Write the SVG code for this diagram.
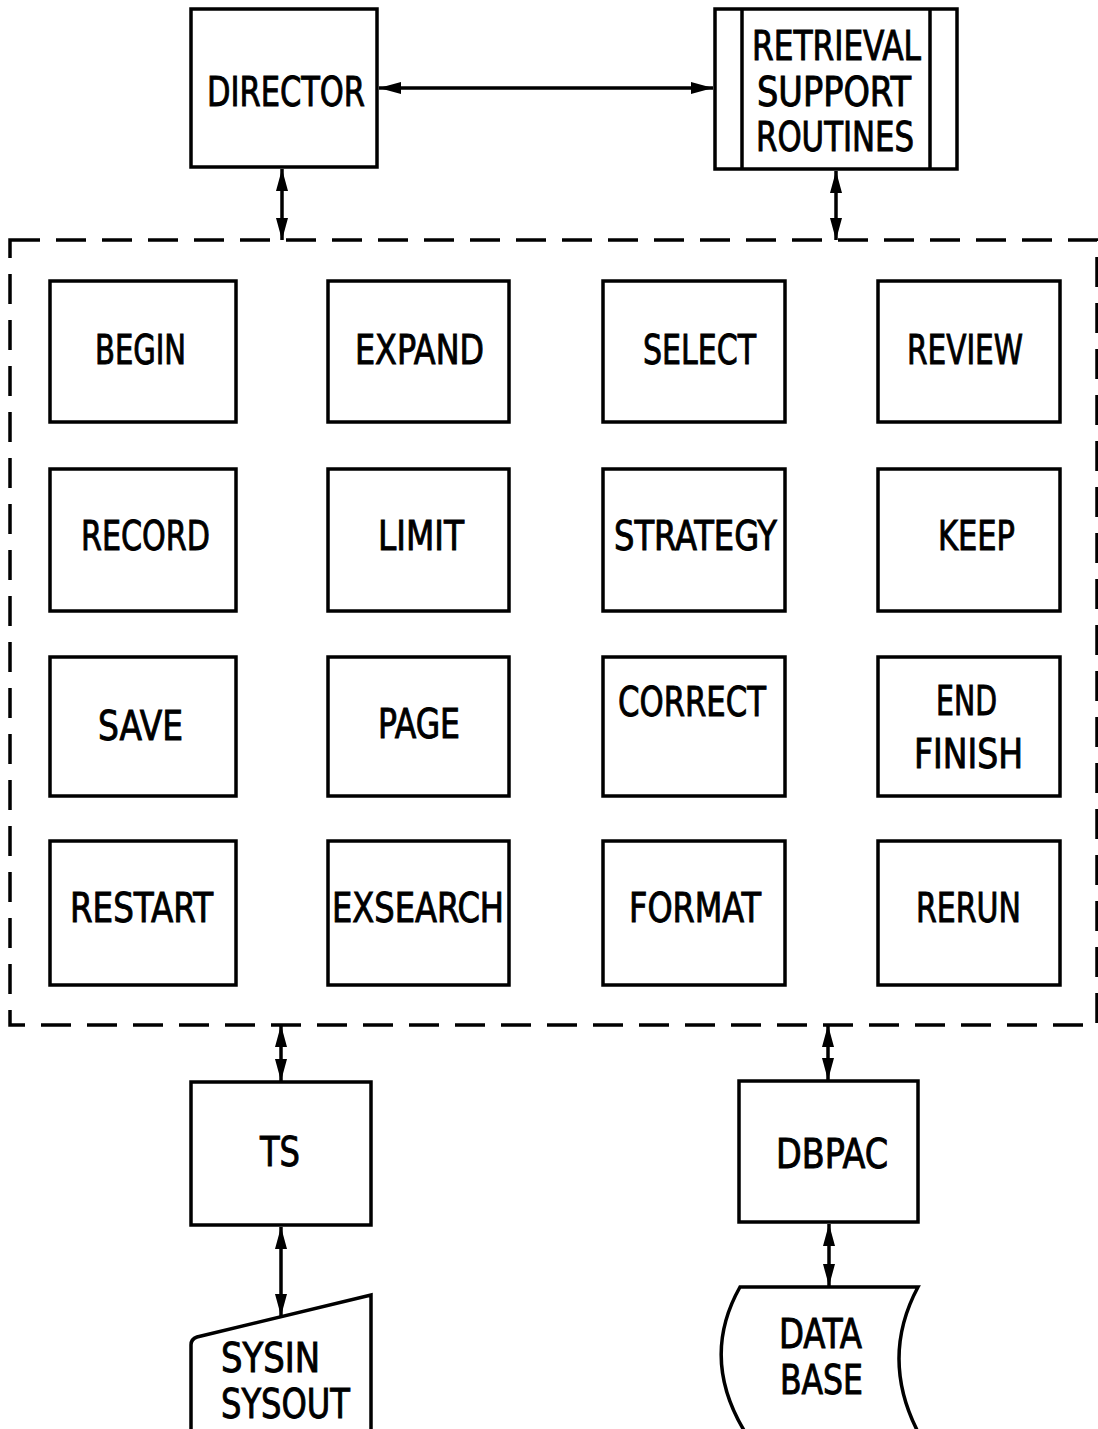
<svg xmlns="http://www.w3.org/2000/svg" width="1098" height="1429" viewBox="0 0 1098 1429">
<style>
.b{fill:#fff;stroke:#000;stroke-width:3.5}
.t{font-family:"DejaVu Sans Condensed","Liberation Sans Narrow","Liberation Sans",sans-serif;font-size:40px;fill:#000;stroke:#000;stroke-width:0.9}
.c{fill:none;stroke:#000;stroke-width:3.5}
.d{fill:none;stroke:#000;stroke-width:3.5;stroke-dasharray:30 16}
</style>
<defs>
<marker id="ah" viewBox="0 0 22 12" refX="22" refY="6" markerWidth="22" markerHeight="12" markerUnits="userSpaceOnUse" orient="auto-start-reverse">
<path d="M0,0 L22,6 L0,12 Z" fill="#000"/>
</marker>
</defs>
<rect width="1098" height="1429" fill="#fff"/>
<g id="boundary"><rect class="d" x="10" y="240" width="1087" height="785"/></g>
<g id="connectors">
<line class="c" x1="379" y1="88" x2="713" y2="88" marker-start="url(#ah)" marker-end="url(#ah)"/>
<line class="c" x1="282" y1="169" x2="282" y2="240" marker-start="url(#ah)" marker-end="url(#ah)"/>
<line class="c" x1="836" y1="171" x2="836" y2="240" marker-start="url(#ah)" marker-end="url(#ah)"/>
<line class="c" x1="281" y1="1025" x2="281" y2="1081" marker-start="url(#ah)" marker-end="url(#ah)"/>
<line class="c" x1="828" y1="1025" x2="828" y2="1080" marker-start="url(#ah)" marker-end="url(#ah)"/>
<line class="c" x1="281" y1="1227" x2="281" y2="1316" marker-start="url(#ah)" marker-end="url(#ah)"/>
<line class="c" x1="829" y1="1224" x2="829" y2="1286" marker-start="url(#ah)" marker-end="url(#ah)"/>
</g>
<g id="director"><rect class="b" x="191" y="9" width="186" height="158"/><text class="t" x="207" y="106" textLength="158" lengthAdjust="spacingAndGlyphs">DIRECTOR</text></g>
<g id="rsr"><rect class="b" x="715" y="9" width="242" height="160"/><line class="c" x1="742" y1="9" x2="742" y2="169"/><line class="c" x1="930" y1="9" x2="930" y2="169"/>
<text class="t" x="752" y="60" textLength="169" lengthAdjust="spacingAndGlyphs">RETRIEVAL</text>
<text class="t" x="757" y="106" textLength="154" lengthAdjust="spacingAndGlyphs">SUPPORT</text>
<text class="t" x="756" y="151" textLength="158" lengthAdjust="spacingAndGlyphs">ROUTINES</text></g>
<g id="begin"><rect class="b" x="50" y="281" width="186" height="141"/><text class="t" x="95" y="364" textLength="91" lengthAdjust="spacingAndGlyphs">BEGIN</text></g>
<g id="expand"><rect class="b" x="328" y="281" width="181" height="141"/><text class="t" x="355" y="364" textLength="129" lengthAdjust="spacingAndGlyphs">EXPAND</text></g>
<g id="select"><rect class="b" x="603" y="281" width="182" height="141"/><text class="t" x="643" y="364" textLength="113" lengthAdjust="spacingAndGlyphs">SELECT</text></g>
<g id="review"><rect class="b" x="878" y="281" width="182" height="141"/><text class="t" x="907" y="364" textLength="116" lengthAdjust="spacingAndGlyphs">REVIEW</text></g>
<g id="record"><rect class="b" x="50" y="469" width="186" height="142"/><text class="t" x="81" y="550" textLength="129" lengthAdjust="spacingAndGlyphs">RECORD</text></g>
<g id="limit"><rect class="b" x="328" y="469" width="181" height="142"/><text class="t" x="378" y="550" textLength="86" lengthAdjust="spacingAndGlyphs">LIMIT</text></g>
<g id="strategy"><rect class="b" x="603" y="469" width="182" height="142"/><text class="t" x="614" y="550" textLength="163" lengthAdjust="spacingAndGlyphs">STRATEGY</text></g>
<g id="keep"><rect class="b" x="878" y="469" width="182" height="142"/><text class="t" x="938" y="550" textLength="77" lengthAdjust="spacingAndGlyphs">KEEP</text></g>
<g id="save"><rect class="b" x="50" y="657" width="186" height="139"/><text class="t" x="98" y="740" textLength="85" lengthAdjust="spacingAndGlyphs">SAVE</text></g>
<g id="page"><rect class="b" x="328" y="657" width="181" height="139"/><text class="t" x="378" y="738" textLength="82" lengthAdjust="spacingAndGlyphs">PAGE</text></g>
<g id="correct"><rect class="b" x="603" y="657" width="182" height="139"/><text class="t" x="618" y="716" textLength="148" lengthAdjust="spacingAndGlyphs">CORRECT</text></g>
<g id="endfinish"><rect class="b" x="878" y="657" width="182" height="139"/><text class="t" x="936" y="715" textLength="61" lengthAdjust="spacingAndGlyphs">END</text><text class="t" x="914" y="768" textLength="109" lengthAdjust="spacingAndGlyphs">FINISH</text></g>
<g id="restart"><rect class="b" x="50" y="841" width="186" height="144"/><text class="t" x="70" y="922" textLength="143" lengthAdjust="spacingAndGlyphs">RESTART</text></g>
<g id="exsearch"><rect class="b" x="328" y="841" width="181" height="144"/><text class="t" x="332" y="922" textLength="172" lengthAdjust="spacingAndGlyphs">EXSEARCH</text></g>
<g id="format"><rect class="b" x="603" y="841" width="182" height="144"/><text class="t" x="629" y="922" textLength="132" lengthAdjust="spacingAndGlyphs">FORMAT</text></g>
<g id="rerun"><rect class="b" x="878" y="841" width="182" height="144"/><text class="t" x="916" y="922" textLength="105" lengthAdjust="spacingAndGlyphs">RERUN</text></g>
<g id="ts"><rect class="b" x="191" y="1082" width="180" height="143"/><text class="t" x="260" y="1166" textLength="40" lengthAdjust="spacingAndGlyphs">TS</text></g>
<g id="dbpac"><rect class="b" x="739" y="1081" width="179" height="141"/><text class="t" x="776" y="1168" textLength="112" lengthAdjust="spacingAndGlyphs">DBPAC</text></g>
<g id="sysin"><path class="b" d="M191,1435 L191,1345 Q191,1339 197,1337 L371,1295 L371,1435"/>
<text class="t" x="221" y="1372" textLength="99" lengthAdjust="spacingAndGlyphs">SYSIN</text>
<text class="t" x="221" y="1418" textLength="129" lengthAdjust="spacingAndGlyphs">SYSOUT</text></g>
<g id="database"><path class="b" d="M740,1287 L918,1287 Q880,1358 918,1432 L745,1432 Q700,1358 740,1287 Z"/>
<text class="t" x="779" y="1348" textLength="83" lengthAdjust="spacingAndGlyphs">DATA</text>
<text class="t" x="780" y="1394" textLength="83" lengthAdjust="spacingAndGlyphs">BASE</text></g>
</svg>
